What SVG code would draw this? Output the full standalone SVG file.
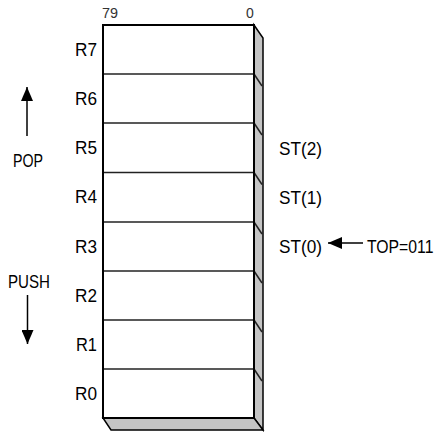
<svg xmlns="http://www.w3.org/2000/svg" width="438" height="432" viewBox="0 0 438 432">
  <style>
    .lbl { font-family: "Liberation Sans", Arial, sans-serif; font-size: 19px; fill: #000; }
    .bit { font-family: "Liberation Sans", Arial, sans-serif; font-size: 14px; fill: #333; }
    .edge { fill: none; stroke: #000; stroke-width: 2; }
    .div { fill: none; stroke: #222; stroke-width: 1.5; }
    .shade { fill: #c4c4c4; stroke: #000; stroke-width: 1.5; stroke-linejoin: miter; }
  </style>
  <defs>
    <marker id="head" viewBox="0 0 14 12" refX="14" refY="6" markerWidth="14" markerHeight="12" markerUnits="userSpaceOnUse" orient="auto">
      <path d="M0,0 L14,6 L0,12 Z" fill="#000"/>
    </marker>
  </defs>
  <rect width="438" height="432" fill="#fff"/>

  <!-- register stack with 3D side and bottom faces -->
  <g id="stack">
    <polygon class="shade" points="254,25 263,38 263,430 254,418"/>
    <polygon class="shade" points="103,418 254,418 263,430 111,430"/>
    <rect x="103" y="25" width="151" height="393" fill="#fff"/>
    <g class="div">
      <line x1="103" y1="74" x2="254" y2="74"/><line x1="254" y1="74" x2="262" y2="86"/>
      <line x1="103" y1="123" x2="254" y2="123"/><line x1="254" y1="123" x2="262" y2="135"/>
      <line x1="103" y1="172.5" x2="254" y2="172.5"/><line x1="254" y1="172.5" x2="262" y2="184.5"/>
      <line x1="103" y1="222" x2="254" y2="222"/><line x1="254" y1="222" x2="262" y2="234"/>
      <line x1="103" y1="271" x2="254" y2="271"/><line x1="254" y1="271" x2="262" y2="283"/>
      <line x1="103" y1="320" x2="254" y2="320"/><line x1="254" y1="320" x2="262" y2="332"/>
      <line x1="103" y1="369" x2="254" y2="369"/><line x1="254" y1="369" x2="262" y2="381"/>
    </g>
    <rect class="edge" x="103" y="25" width="151" height="393"/>
    <text class="bit" x="102" y="18" textLength="16" lengthAdjust="spacingAndGlyphs">79</text>
    <text class="bit" x="246" y="18">0</text>
  </g>

  <!-- register names -->
  <g id="names">
    <text class="lbl" x="75" y="56" textLength="22" lengthAdjust="spacingAndGlyphs">R7</text>
    <text class="lbl" x="75" y="105" textLength="22" lengthAdjust="spacingAndGlyphs">R6</text>
    <text class="lbl" x="75" y="154" textLength="22" lengthAdjust="spacingAndGlyphs">R5</text>
    <text class="lbl" x="75" y="203" textLength="22" lengthAdjust="spacingAndGlyphs">R4</text>
    <text class="lbl" x="75" y="253" textLength="22" lengthAdjust="spacingAndGlyphs">R3</text>
    <text class="lbl" x="75" y="302" textLength="22" lengthAdjust="spacingAndGlyphs">R2</text>
    <text class="lbl" x="76" y="351" textLength="21" lengthAdjust="spacingAndGlyphs">R1</text>
    <text class="lbl" x="75" y="400" textLength="22" lengthAdjust="spacingAndGlyphs">R0</text>
  </g>

  <!-- stack-relative names -->
  <g id="st">
    <text class="lbl" x="279" y="155" textLength="43" lengthAdjust="spacingAndGlyphs">ST(2)</text>
    <text class="lbl" x="279" y="204" textLength="43" lengthAdjust="spacingAndGlyphs">ST(1)</text>
    <text class="lbl" x="279" y="253" textLength="43" lengthAdjust="spacingAndGlyphs">ST(0)</text>
    <text class="lbl" transform="translate(367 253) scale(0.83 1)">TOP=011</text>
  </g>

  <g id="pop">
    <text class="lbl" x="13" y="167" textLength="30" lengthAdjust="spacingAndGlyphs">POP</text>
  </g>
  <g id="push">
    <text class="lbl" x="8" y="288" textLength="42" lengthAdjust="spacingAndGlyphs">PUSH</text>
  </g>

  <g id="connectors" stroke="#000" stroke-width="1.5" fill="none">
    <line x1="27" y1="136" x2="27" y2="87" marker-end="url(#head)"/>
    <line x1="27.5" y1="295" x2="27.5" y2="344" marker-end="url(#head)"/>
    <line x1="363" y1="243" x2="328" y2="243" marker-end="url(#head)"/>
  </g>
</svg>
